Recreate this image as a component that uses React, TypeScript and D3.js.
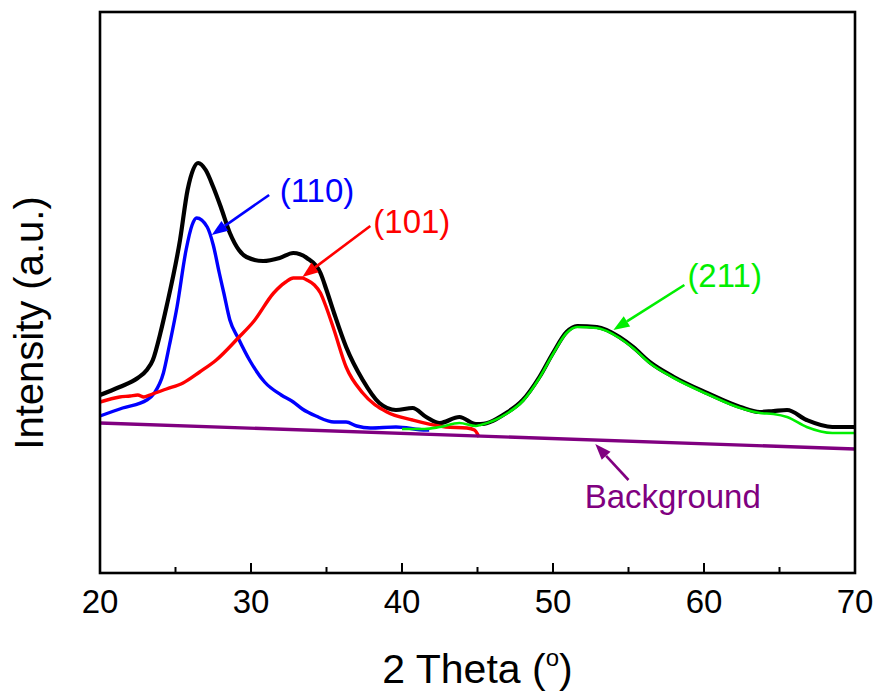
import React from "react";
import * as d3 from "d3";

// 2θ (deg) and intensity (a.u.)
const totalX = [20, 21.3, 22.5, 23.1, 23.5, 24.0, 24.4, 25.3, 25.8, 26.5, 27.0, 27.5, 28.0, 28.6, 29.2, 29.7, 30.8, 31.9, 32.8, 33.7, 34.6, 35.0, 35.5, 36.3, 37.4, 38.5, 39.6, 40.7, 41.6, 42.5, 43.8, 44.9, 45.2, 46.9, 48.0, 49.1, 50.0, 50.9, 51.6, 52.9, 54.4, 55.3, 56.4, 58.0, 60.2, 62.4, 63.7, 64.6, 65.5, 66.8, 68.5, 70.0];
const totalY = [178, 186, 195, 203, 213, 240, 266, 333, 383, 410, 403, 386, 366, 340, 323, 316, 312, 315, 320, 315, 300, 283, 260, 226, 193, 170, 163, 165, 156, 150, 156, 149, 149, 160, 173, 196, 220, 241, 247, 246, 236, 226, 211, 196, 180, 166, 161, 162, 163, 153, 146, 146];

const p110X = [20, 21.5, 23.1, 23.6, 24.2, 24.6, 25.1, 25.7, 26.1, 26.4, 27.1, 27.5, 27.9, 28.2, 28.6, 29.15, 29.9, 30.9, 32.0, 32.8, 33.4, 34.3, 35.5, 36.3, 37.0, 37.9, 39.6, 41.6, 41.8];
const p110Y = [157, 165, 173, 180, 200, 228, 266, 323, 348, 355, 346, 328, 300, 280, 253, 235, 213, 191, 178, 171, 164, 157, 151, 151, 147, 145, 146, 143, 143];

const p101X = [20, 21.3, 22.0, 22.5, 22.9, 23.3, 24.4, 25.5, 26.6, 27.7, 29.15, 30.2, 31.5, 32.3, 32.8, 33.4, 33.7, 34.2, 34.6, 35.0, 35.5, 36.3, 37.4, 39.0, 40.7, 42.9, 44.3, 44.8, 45.1];
const p101Y = [171, 176, 177, 178, 176, 178, 184, 190, 201, 213, 235, 252, 280, 291, 295, 295, 293, 288, 280, 265, 243, 206, 180, 161, 153, 146, 145, 143, 136];

const p211X = [40.0, 41.5, 42.5, 43.8, 44.9, 45.2, 46.9, 48.0, 49.1, 50.0, 50.9, 51.6, 52.9, 54.4, 55.3, 56.4, 58.0, 60.2, 62.4, 63.7, 64.6, 65.5, 66.8, 68.5, 70.0];
const p211Y = [144, 144, 146, 150, 147, 148, 159, 172, 195, 219, 240, 246, 245, 235, 225, 210, 195, 179, 165, 160, 159, 156, 146, 140, 140];

const bgX = [20, 70];
const bgY = [150, 124];

const xTicks = [20, 30, 40, 50, 60, 70];
const xMinorTicks = [25, 35, 45, 55, 65];

// label, colour, text anchor (2θ, I), arrow tail and head (2θ, I)
const labels = [
  { text: "(110)", color: "#0000ff", tx: 31.9, ty: 371, x1: 31.2, y1: 378, x2: 27.4, y2: 338 },
  { text: "(101)", color: "#ff0000", tx: 38.1, ty: 340, x1: 37.9, y1: 347, x2: 33.4, y2: 296 },
  { text: "(211)", color: "#00ee00", tx: 58.9, ty: 286, x1: 58.7, y1: 288, x2: 54.0, y2: 243 },
  { text: "Background", color: "#800080", tx: 52.1, ty: 65, x1: 55.0, y1: 93, x2: 52.8, y2: 129 },
];

const W = 879;
const H = 696;
const m = { left: 100, right: 24, top: 12, bottom: 123 };
const font = "Arial, 'Liberation Sans', sans-serif";

const x = d3.scaleLinear().domain([20, 70]).range([m.left, W - m.right]);
const y = d3.scaleLinear().domain([0, 561]).range([H - m.bottom, m.top]);

const line = d3
  .line<[number, number]>()
  .x(d => x(d[0]))
  .y(d => y(d[1]))
  .curve(d3.curveMonotoneX);

const zip = (xs: number[], ys: number[]) => xs.map((v, i) => [v, ys[i]] as [number, number]);

const series = [
  { xs: totalX, ys: totalY, color: "#000000", w: 4.2 },
  { xs: p110X, ys: p110Y, color: "#0000ff", w: 3.4 },
  { xs: p101X, ys: p101Y, color: "#ff0000", w: 3.4 },
  { xs: p211X, ys: p211Y, color: "#00ee00", w: 2.6 },
  { xs: bgX, ys: bgY, color: "#800080", w: 3.4 },
];

function Arrow({ x1, y1, x2, y2, color }) {
  const ax1 = x(x1), ay1 = y(y1), ax2 = x(x2), ay2 = y(y2);
  const ang = Math.atan2(ay2 - ay1, ax2 - ax1);
  const len = 16, half = 6;
  const bx = ax2 - len * Math.cos(ang), by = ay2 - len * Math.sin(ang);
  const px = -Math.sin(ang) * half, py = Math.cos(ang) * half;
  return (
    <g>
      <line x1={ax1} y1={ay1} x2={bx} y2={by} stroke={color} strokeWidth={2.6} />
      <polygon points={`${ax2},${ay2} ${bx + px},${by + py} ${bx - px},${by - py}`} fill={color} />
    </g>
  );
}

export default function App() {
  const bottom = H - m.bottom;
  return (
    <svg width={W} height={H} style={{ position: "absolute", left: 0, top: 0, background: "#fff" }} fontFamily={font}>
      {series.map((s, i) => (
        <path key={i} d={line(zip(s.xs, s.ys)) || ""} fill="none" stroke={s.color} strokeWidth={s.w} strokeLinejoin="round" />
      ))}

      {labels.map(l => (
        <g key={l.text}>
          <Arrow x1={l.x1} y1={l.y1} x2={l.x2} y2={l.y2} color={l.color} />
          <text x={x(l.tx)} y={y(l.ty)} fill={l.color} fontSize={33}>{l.text}</text>
        </g>
      ))}

      <rect x={m.left} y={m.top} width={W - m.left - m.right} height={bottom - m.top} fill="none" stroke="#000" strokeWidth={2.6} />

      {xTicks.map(t => (
        <g key={t}>
          <line x1={x(t)} x2={x(t)} y1={bottom} y2={bottom - 10} stroke="#000" strokeWidth={2} />
          <text x={x(t)} y={613} textAnchor="middle" fontSize={33}>{t}</text>
        </g>
      ))}
      {xMinorTicks.map(t => (
        <line key={t} x1={x(t)} x2={x(t)} y1={bottom} y2={bottom - 6} stroke="#000" strokeWidth={2} />
      ))}

      <text x={x(45)} y={683} textAnchor="middle" fontSize={41}>
        2 Theta (<tspan dy={-17} fontSize={24}>o</tspan><tspan dy={17}>)</tspan>
      </text>
      <text transform="translate(43, 323) rotate(-90)" textAnchor="middle" fontSize={40}>
        Intensity (a.u.)
      </text>
    </svg>
  );
}
